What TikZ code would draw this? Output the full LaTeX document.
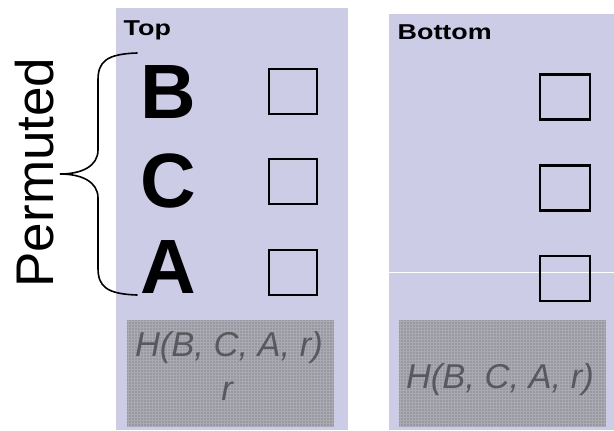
\documentclass[tikz,border=0pt]{standalone}
\usepackage{fontspec}
\setmainfont{Liberation Sans}
\usepackage{graphicx}
\definecolor{panel}{RGB}{204,204,230}
\definecolor{hashbox}{RGB}{152,152,160}
\definecolor{hashgrid}{RGB}{170,170,178}
\definecolor{hashtext}{RGB}{88,88,94}
\tikzset{
  panelbox/.style={fill=panel, draw=none},
  hashfill/.style={fill=hashbox, draw=none},
  slot/.style={draw=black, line width=2.2pt, minimum width=48pt, minimum height=45pt, inner sep=0pt},
  slotwide/.style={slot, minimum width=50pt},
  bigletter/.style={font=\fontsize{77}{77}\selectfont\bfseries, inner sep=0pt, anchor=base},
  title/.style={font=\fontsize{21.5}{21.5}\selectfont\bfseries, inner sep=0pt, anchor=base west},
  hashlabel/.style={font=\fontsize{34.5}{34.5}\selectfont\itshape, text=hashtext, inner sep=0pt, anchor=base},
  bracket/.style={draw=black, line width=1.6pt, line cap=round}
}
\begin{document}
\begin{tikzpicture}[x=1pt, y=-1pt]
  \useasboundingbox (0,0) rectangle (614,431);

  % panels
  \fill[panelbox] (116,7.5) rectangle (348,430);
  \fill[panelbox] (389,14) rectangle (614,430);
  \draw[white, line width=1pt] (389,272) -- (614,272);

  % hashed output boxes with a fine grid texture
  \foreach \bx/\ex in {127/334, 399/606}{
    \fill[hashfill] (\bx,320) rectangle (\ex,427);
    \begin{scope}
      \clip (\bx,320) rectangle (\ex,427);
      \foreach \i in {0,3,...,210}{
        \draw[hashgrid, line width=0.5pt] (\bx+\i+1.5,320) -- (\bx+\i+1.5,427);
      }
      \foreach \j in {0,3,...,108}{
        \draw[hashgrid, line width=0.5pt] (\bx,320+\j+1.5) -- (\ex,320+\j+1.5);
      }
    \end{scope}
  }

  % titles
  \node[title] (toplbl) at (123.5,35) {\scalebox{1.25}[1]{Top}};
  \node[title] (botlbl) at (397.5,39) {\scalebox{1.25}[1]{Bottom}};

  % permuted letters
  \node[bigletter] (lB) at (168.5,118) {B};
  \node[bigletter] (lC) at (168,207) {C};
  \node[bigletter] (lA) at (168,293) {A};

  % slots, top
  \node[slot] (t1) at (293,91.5) {};
  \node[slot] (t2) at (293,181.5) {};
  \node[slot] (t3) at (293,272.5) {};

  % slots, bottom
  \node[slotwide] (b1) at (565,97) {};
  \node[slotwide] (b2) at (565,188) {};
  \node[slotwide] (b3) at (565,278.5) {};

  % hash labels
  \node[hashlabel] (htop) at (229,356) {H(B, C, A, r)};
  \node[hashlabel] (rtop) at (227,400) {r};
  \node[hashlabel] (hbot) at (500,388) {H(B, C, A, r)};

  % curly bracket over the three letters
  \coordinate (brtop) at (137,53);
  \coordinate (brmid) at (60,174);
  \coordinate (brbot) at (137,295);
  \draw[bracket] (brtop) .. controls (106,54) and (98,62) .. (98,80)
    -- (98,150) .. controls (98,166) and (82,174) .. (brmid)
    .. controls (82,174) and (98,182) .. (98,198)
    -- (98,268) .. controls (98,286) and (106,294) .. (brbot);

  % side label
  \node[font=\fontsize{53}{53}\selectfont, rotate=90, anchor=base, inner sep=0pt] (perm) at (53,172.5) {Permuted};
\end{tikzpicture}
\end{document}
